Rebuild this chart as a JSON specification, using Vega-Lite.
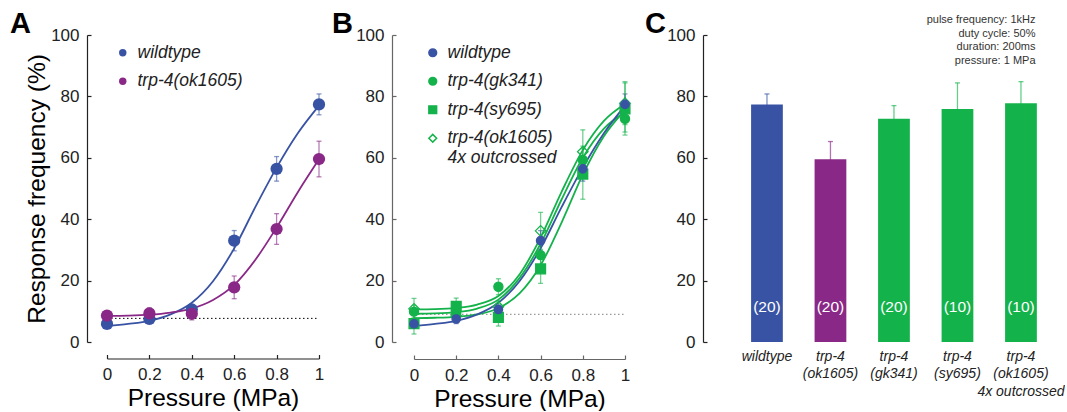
{
  "$schema": "https://vega.github.io/schema/vega-lite/v6.json",
  "padding": {"left": 10, "top": 10, "right": 0, "bottom": 0},
  "background": "white",
  "bounds": "flush",
  "spacing": 95,
  "resolve": {
    "scale": {"color": "independent", "fill": "independent", "stroke": "independent", "shape": "independent", "size": "independent", "x": "independent", "y": "independent"},
    "legend": {"color": "independent", "fill": "independent", "stroke": "independent", "shape": "independent", "size": "independent"}
  },
  "config": {
    "view": {"stroke": null},
    "font": "Liberation Sans",
    "axis": {
      "grid": false,
      "labelFont": "Liberation Sans",
      "titleFont": "Liberation Sans",
      "labelFontSize": 17,
      "titleFontSize": 24.5,
      "titleFontWeight": "normal",
      "titleColor": "#000",
      "labelColor": "#222",
      "domainColor": "#222",
      "tickColor": "#222",
      "domainWidth": 1.2,
      "tickWidth": 1.2,
      "tickSize": -4,
      "labelPadding": 12,
      "labelFlush": false,
      "labelOverlap": false
    },
    "legend": {
      "labelFont": "Liberation Sans",
      "labelFontStyle": "italic",
      "labelFontSize": 17.5,
      "labelColor": "#222",
      "padding": 0
    }
  },
  "datasets": {
    "curvesA": [
      {"s": "wildtype", "p": 0, "r": 5.2}, {"s": "wildtype", "p": 0.1, "r": 5.9}, {"s": "wildtype", "p": 0.2, "r": 6.9}, {"s": "wildtype", "p": 0.3, "r": 9.0}, {"s": "wildtype", "p": 0.4, "r": 12.8}, {"s": "wildtype", "p": 0.5, "r": 19.8}, {"s": "wildtype", "p": 0.6, "r": 30.5}, {"s": "wildtype", "p": 0.7, "r": 44.0}, {"s": "wildtype", "p": 0.8, "r": 56.8}, {"s": "wildtype", "p": 0.9, "r": 68.0}, {"s": "wildtype", "p": 1, "r": 77.0},
      {"s": "trp-4(ok1605)", "p": 0, "r": 8.5}, {"s": "trp-4(ok1605)", "p": 0.1, "r": 8.6}, {"s": "trp-4(ok1605)", "p": 0.2, "r": 8.9}, {"s": "trp-4(ok1605)", "p": 0.3, "r": 9.6}, {"s": "trp-4(ok1605)", "p": 0.4, "r": 10.9}, {"s": "trp-4(ok1605)", "p": 0.5, "r": 13.7}, {"s": "trp-4(ok1605)", "p": 0.6, "r": 18.6}, {"s": "trp-4(ok1605)", "p": 0.7, "r": 26.8}, {"s": "trp-4(ok1605)", "p": 0.8, "r": 37.3}, {"s": "trp-4(ok1605)", "p": 0.9, "r": 48.8}, {"s": "trp-4(ok1605)", "p": 1, "r": 59.5}
    ],
    "ptsA": [
      {"s": "wildtype", "p": 0, "r": 5.9, "e": 1.0}, {"s": "wildtype", "p": 0.2, "r": 7.5, "e": 1.5}, {"s": "wildtype", "p": 0.4, "r": 10.6, "e": 1.5}, {"s": "wildtype", "p": 0.6, "r": 33.0, "e": 3.3}, {"s": "wildtype", "p": 0.8, "r": 56.4, "e": 4.0}, {"s": "wildtype", "p": 1, "r": 77.4, "e": 3.4},
      {"s": "trp-4(ok1605)", "p": 0, "r": 8.6, "e": 1.3}, {"s": "trp-4(ok1605)", "p": 0.2, "r": 9.3, "e": 1.8}, {"s": "trp-4(ok1605)", "p": 0.4, "r": 9.2, "e": 2.0}, {"s": "trp-4(ok1605)", "p": 0.6, "r": 17.8, "e": 3.7}, {"s": "trp-4(ok1605)", "p": 0.8, "r": 36.8, "e": 5.0}, {"s": "trp-4(ok1605)", "p": 1, "r": 59.6, "e": 5.8}
    ],
    "curvesB": [
      {"s": "trp-4(ok1605) 4x outcrossed", "p": 0, "r": 10.6}, {"s": "trp-4(ok1605) 4x outcrossed", "p": 0.1, "r": 10.7}, {"s": "trp-4(ok1605) 4x outcrossed", "p": 0.2, "r": 11.1}, {"s": "trp-4(ok1605) 4x outcrossed", "p": 0.3, "r": 12.2}, {"s": "trp-4(ok1605) 4x outcrossed", "p": 0.4, "r": 15.0}, {"s": "trp-4(ok1605) 4x outcrossed", "p": 0.5, "r": 22.0}, {"s": "trp-4(ok1605) 4x outcrossed", "p": 0.6, "r": 34.0}, {"s": "trp-4(ok1605) 4x outcrossed", "p": 0.7, "r": 49.0}, {"s": "trp-4(ok1605) 4x outcrossed", "p": 0.8, "r": 62.5}, {"s": "trp-4(ok1605) 4x outcrossed", "p": 0.9, "r": 72.0}, {"s": "trp-4(ok1605) 4x outcrossed", "p": 1, "r": 77.5},
      {"s": "trp-4(gk341)", "p": 0, "r": 9.2}, {"s": "trp-4(gk341)", "p": 0.1, "r": 9.3}, {"s": "trp-4(gk341)", "p": 0.2, "r": 9.7}, {"s": "trp-4(gk341)", "p": 0.3, "r": 10.9}, {"s": "trp-4(gk341)", "p": 0.4, "r": 13.8}, {"s": "trp-4(gk341)", "p": 0.5, "r": 20.8}, {"s": "trp-4(gk341)", "p": 0.6, "r": 32.0}, {"s": "trp-4(gk341)", "p": 0.7, "r": 46.5}, {"s": "trp-4(gk341)", "p": 0.8, "r": 60.0}, {"s": "trp-4(gk341)", "p": 0.9, "r": 69.5}, {"s": "trp-4(gk341)", "p": 1, "r": 74.8},
      {"s": "trp-4(sy695)", "p": 0, "r": 7.8}, {"s": "trp-4(sy695)", "p": 0.1, "r": 7.9}, {"s": "trp-4(sy695)", "p": 0.2, "r": 8.2}, {"s": "trp-4(sy695)", "p": 0.3, "r": 9.0}, {"s": "trp-4(sy695)", "p": 0.4, "r": 11.0}, {"s": "trp-4(sy695)", "p": 0.5, "r": 15.8}, {"s": "trp-4(sy695)", "p": 0.6, "r": 25.0}, {"s": "trp-4(sy695)", "p": 0.7, "r": 39.0}, {"s": "trp-4(sy695)", "p": 0.8, "r": 54.5}, {"s": "trp-4(sy695)", "p": 0.9, "r": 67.0}, {"s": "trp-4(sy695)", "p": 1, "r": 75.5},
      {"s": "wildtype", "p": 0, "r": 5.2}, {"s": "wildtype", "p": 0.1, "r": 5.9}, {"s": "wildtype", "p": 0.2, "r": 6.9}, {"s": "wildtype", "p": 0.3, "r": 9.0}, {"s": "wildtype", "p": 0.4, "r": 12.8}, {"s": "wildtype", "p": 0.5, "r": 19.8}, {"s": "wildtype", "p": 0.6, "r": 30.5}, {"s": "wildtype", "p": 0.7, "r": 44.0}, {"s": "wildtype", "p": 0.8, "r": 56.8}, {"s": "wildtype", "p": 0.9, "r": 68.0}, {"s": "wildtype", "p": 1, "r": 77.0}
    ],
    "ptsB": [
      {"s": "trp-4(gk341)", "p": 0, "r": 9.9, "e": 2.0}, {"s": "trp-4(gk341)", "p": 0.2, "r": 9.2, "e": 2.0}, {"s": "trp-4(gk341)", "p": 0.4, "r": 18.0, "e": 2.6}, {"s": "trp-4(gk341)", "p": 0.6, "r": 28.3, "e": 3.5}, {"s": "trp-4(gk341)", "p": 0.8, "r": 59.3, "e": 4.5}, {"s": "trp-4(gk341)", "p": 1, "r": 72.7, "e": 4.3},
      {"s": "trp-4(sy695)", "p": 0, "r": 6.0, "e": 3.4}, {"s": "trp-4(sy695)", "p": 0.2, "r": 11.6, "e": 2.7}, {"s": "trp-4(sy695)", "p": 0.4, "r": 8.0, "e": 2.8}, {"s": "trp-4(sy695)", "p": 0.6, "r": 23.8, "e": 4.7}, {"s": "trp-4(sy695)", "p": 0.8, "r": 54.7, "e": 8.2}, {"s": "trp-4(sy695)", "p": 1, "r": 75.9, "e": 8.5},
      {"s": "trp-4(ok1605) 4x outcrossed", "p": 0, "r": 10.8, "e": 3.4}, {"s": "trp-4(ok1605) 4x outcrossed", "p": 0.2, "r": 8.5, "e": 2.0}, {"s": "trp-4(ok1605) 4x outcrossed", "p": 0.4, "r": 11.5, "e": 2.0}, {"s": "trp-4(ok1605) 4x outcrossed", "p": 0.6, "r": 36.2, "e": 6.0}, {"s": "trp-4(ok1605) 4x outcrossed", "p": 0.8, "r": 62.0, "e": 7.1}, {"s": "trp-4(ok1605) 4x outcrossed", "p": 1, "r": 77.8, "e": 7.0},
      {"s": "wildtype", "p": 0, "r": 5.9, "e": 1.0}, {"s": "wildtype", "p": 0.2, "r": 7.5, "e": 1.5}, {"s": "wildtype", "p": 0.4, "r": 10.6, "e": 1.5}, {"s": "wildtype", "p": 0.6, "r": 33.0, "e": 3.3}, {"s": "wildtype", "p": 0.8, "r": 56.4, "e": 4.0}, {"s": "wildtype", "p": 1, "r": 77.4, "e": 3.4}
    ],
    "bars": [
      {"g": "wildtype", "r": 77.4, "e": 3.4, "n": "(20)"},
      {"g": "trp-4|(ok1605)", "r": 59.5, "e": 5.8, "n": "(20)"},
      {"g": "trp-4|(gk341)", "r": 72.7, "e": 4.3, "n": "(20)"},
      {"g": "trp-4|(sy695)", "r": 75.9, "e": 8.5, "n": "(10)"},
      {"g": "trp-4|(ok1605)|4x outcrossed", "r": 77.8, "e": 7.0, "n": "(10)"}
    ]
  },
  "hconcat": [
    {
      "width": 212,
      "height": 307,
      "title": {"text": "A", "anchor": "start", "frame": "group", "font": "Liberation Sans", "fontSize": 29, "fontWeight": "bold", "color": "#000", "baseline": "alphabetic", "dx": -97, "dy": 40, "offset": 4},
      "encoding": {
        "x": {"field": "p", "type": "quantitative", "scale": {"domain": [0, 1], "nice": false, "zero": false},
              "axis": {"offset": 16.5, "values": [0, 0.2, 0.4, 0.6, 0.8, 1], "format": "~g", "title": "Pressure (MPa)", "titlePadding": 4}},
        "y": {"field": "r", "type": "quantitative", "scale": {"domain": [0, 100], "nice": false},
              "axis": {"offset": 20, "values": [0, 20, 40, 60, 80, 100], "title": "Response frequency (%)", "titlePadding": 1}}
      },
      "layer": [
        {"data": {"values": [{"p": 0, "p2": 1, "r": 7.7}]}, "mark": {"type": "rule", "color": "#000", "strokeWidth": 1, "strokeDash": [1.5, 2.5]}, "encoding": {"x2": {"field": "p2"}}},
        {"data": {"name": "curvesA"}, "mark": {"type": "line", "interpolate": "monotone", "strokeWidth": 1.8},
         "encoding": {"color": {"field": "s", "type": "nominal", "scale": {"domain": ["trp-4(ok1605)", "wildtype"], "range": ["#8A2887", "#3953A4"]}, "legend": null}}},
        {"data": {"name": "ptsA"}, "mark": {"type": "errorbar", "ticks": {"size": 5}, "thickness": 1.3, "opacity": 0.6},
         "encoding": {"yError": {"field": "e"}, "color": {"field": "s", "type": "nominal", "legend": null}}},
        {"data": {"name": "ptsA"}, "mark": {"type": "point", "shape": "circle", "size": 150, "filled": true, "strokeWidth": 0, "opacity": 1},
         "encoding": {"fill": {"field": "s", "type": "nominal", "scale": {"domain": ["wildtype", "trp-4(ok1605)"], "range": ["#3953A4", "#8A2887"]},
                      "legend": {"orient": "none", "legendX": 7, "legendY": 9, "title": null, "symbolSize": 55, "rowPadding": 9.5, "labelOffset": 6, "symbolStrokeWidth": 0}}}}
      ]
    },
    {
      "width": 211,
      "height": 307,
      "title": {"text": "B", "anchor": "start", "frame": "group", "font": "Liberation Sans", "fontSize": 29, "fontWeight": "bold", "color": "#000", "baseline": "alphabetic", "dx": -82, "dy": 40, "offset": 4},
      "encoding": {
        "x": {"field": "p", "type": "quantitative", "scale": {"domain": [0, 1], "nice": false, "zero": false},
              "axis": {"offset": 17, "values": [0, 0.2, 0.4, 0.6, 0.8, 1], "format": "~g", "title": "Pressure (MPa)", "titlePadding": 4, "domainColor": "#666", "tickColor": "#666"}},
        "y": {"field": "r", "type": "quantitative", "scale": {"domain": [0, 100], "nice": false},
              "axis": {"offset": 22, "values": [0, 20, 40, 60, 80, 100], "title": null, "domainColor": "#666", "tickColor": "#666"}}
      },
      "layer": [
        {"data": {"values": [{"p": 0, "p2": 1, "r": 9.0}]}, "mark": {"type": "rule", "color": "#999", "strokeWidth": 1.2, "strokeDash": [1.5, 2.5]}, "encoding": {"x2": {"field": "p2"}}},
        {"data": {"name": "curvesB"}, "mark": {"type": "line", "interpolate": "monotone", "strokeWidth": 1.8},
         "encoding": {"color": {"field": "s", "type": "nominal", "sort": null, "scale": {"domain": ["trp-4(ok1605) 4x outcrossed", "trp-4(gk341)", "trp-4(sy695)", "wildtype"], "range": ["#14B24B", "#14B24B", "#14B24B", "#3953A4"]}, "legend": null}}},
        {"data": {"name": "ptsB"}, "mark": {"type": "errorbar", "ticks": {"size": 5}, "thickness": 1.3, "opacity": 0.6},
         "encoding": {"yError": {"field": "e"}, "color": {"field": "s", "type": "nominal", "legend": null}}},
        {"data": {"name": "ptsB"}, "mark": {"type": "point", "strokeWidth": 1.3, "opacity": 1},
         "encoding": {
           "fill": {"field": "s", "type": "nominal", "scale": {"domain": ["wildtype", "trp-4(gk341)", "trp-4(sy695)", "trp-4(ok1605) 4x outcrossed"], "range": ["#3953A4", "#14B24B", "#14B24B", "transparent"]},
                    "legend": {"orient": "none", "legendX": 10, "legendY": 9, "title": null, "symbolSize": 60, "rowPadding": 9.5, "labelOffset": 6, "labelLineHeight": 22,
                               "labelExpr": "datum.label == 'trp-4(ok1605) 4x outcrossed' ? ['trp-4(ok1605)', '4x outcrossed'] : datum.label"}},
           "stroke": {"field": "s", "type": "nominal", "scale": {"domain": ["wildtype", "trp-4(gk341)", "trp-4(sy695)", "trp-4(ok1605) 4x outcrossed"], "range": ["#3953A4", "#14B24B", "#14B24B", "#14B24B"]},
                    "legend": {"orient": "none", "legendX": 10, "legendY": 9, "title": null, "symbolSize": 60, "rowPadding": 9.5, "labelOffset": 6, "labelLineHeight": 22,
                               "labelExpr": "datum.label == 'trp-4(ok1605) 4x outcrossed' ? ['trp-4(ok1605)', '4x outcrossed'] : datum.label"}},
           "shape": {"field": "s", "type": "nominal", "scale": {"domain": ["wildtype", "trp-4(gk341)", "trp-4(sy695)", "trp-4(ok1605) 4x outcrossed"], "range": ["circle", "circle", "square", "diamond"]},
                    "legend": {"orient": "none", "legendX": 10, "legendY": 9, "title": null, "symbolSize": 60, "rowPadding": 9.5, "labelOffset": 6, "labelLineHeight": 22,
                               "labelExpr": "datum.label == 'trp-4(ok1605) 4x outcrossed' ? ['trp-4(ok1605)', '4x outcrossed'] : datum.label"}},
           "size": {"field": "s", "type": "nominal", "scale": {"domain": ["trp-4(ok1605) 4x outcrossed", "trp-4(sy695)", "trp-4(gk341)", "wildtype"], "range": [110, 70, 144, 144]}, "legend": null}
         }}
      ]
    },
    {
      "width": 333,
      "height": 307,
      "title": {"text": "C", "anchor": "start", "frame": "group", "font": "Liberation Sans", "fontSize": 29, "fontWeight": "bold", "color": "#000", "baseline": "alphabetic", "dx": -75, "dy": 52.5, "offset": 4},
      "data": {"name": "bars"},
      "encoding": {
        "x": {"field": "g", "type": "nominal", "sort": null,
              "scale": {"domain": ["wildtype", "trp-4|(ok1605)", "trp-4|(gk341)", "trp-4|(sy695)", "trp-4|(ok1605)|4x outcrossed"], "paddingInner": 0.5, "paddingOuter": 0.372, "align": 0.658},
              "axis": {"title": null, "domain": false, "ticks": false, "labelAngle": 0, "labelPadding": 7, "labelFontSize": 14, "labelFontStyle": "italic", "labelLineHeight": 17.5, "labelExpr": "split(datum.label, '|')"}},
        "y": {"field": "r", "type": "quantitative", "scale": {"domain": [0, 100], "nice": false},
              "axis": {"offset": 17, "values": [0, 20, 40, 60, 80, 100],
                       "title": ["pulse frequency: 1kHz", "duty cycle: 50%", "duration: 200ms", "pressure: 1 MPa"],
                       "titleAngle": 0, "titleAlign": "right", "titleBaseline": "alphabetic", "titleFontSize": 11, "titleLineHeight": 13.5, "titleColor": "#333", "titleX": 332, "titleY": -12.3}}
      },
      "layer": [
        {"mark": {"type": "errorbar", "ticks": {"size": 5}, "thickness": 1.3, "opacity": 0.65},
         "encoding": {"yError": {"field": "e"}, "color": {"field": "g", "type": "nominal", "sort": null, "scale": {"domain": ["wildtype", "trp-4|(ok1605)", "trp-4|(gk341)", "trp-4|(sy695)", "trp-4|(ok1605)|4x outcrossed"], "range": ["#3953A4", "#8A2887", "#14B24B", "#14B24B", "#14B24B"]}, "legend": null}}},
        {"mark": {"type": "bar"},
         "encoding": {"color": {"field": "g", "type": "nominal", "sort": null, "legend": null}}},
        {"mark": {"type": "text", "color": "white", "fontSize": 15.5, "baseline": "middle", "font": "Liberation Sans"},
         "encoding": {"y": {"datum": 11.5}, "text": {"field": "n"}}}
      ]
    }
  ]
}
